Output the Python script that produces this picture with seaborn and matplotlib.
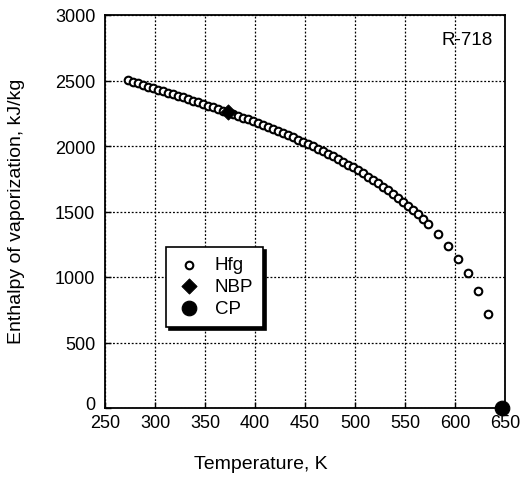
import numpy as np
import pandas as pd
import matplotlib
matplotlib.use("Agg")
import matplotlib.pyplot as plt
import matplotlib.transforms as mtransforms
import seaborn as sns

# Saturation temperatures (K) and enthalpy of vaporization (kJ/kg) for water (R-718)
temp_c = [0, 5, 10, 15, 20, 25, 30, 35, 40, 45, 50, 55, 60, 65, 70, 75, 80, 85, 90, 95,
          100, 105, 110, 115, 120, 125, 130, 135, 140, 145, 150, 155, 160, 165, 170, 175,
          180, 185, 190, 195, 200, 205, 210, 215, 220, 225, 230, 235, 240, 245, 250, 255,
          260, 265, 270, 275, 280, 285, 290, 295, 300, 310, 320, 330, 340, 350, 360]
hfg = [2501.3, 2489.6, 2477.7, 2465.9, 2454.1, 2442.3, 2430.5, 2418.6, 2406.7, 2394.8,
       2382.7, 2370.7, 2358.5, 2346.2, 2333.8, 2321.4, 2308.8, 2296.0, 2283.2, 2270.2,
       2257.0, 2243.7, 2230.2, 2216.5, 2202.6, 2188.5, 2174.2, 2159.6, 2144.7, 2129.6,
       2114.3, 2098.6, 2082.6, 2066.2, 2049.5, 2032.4, 2015.0, 1997.1, 1978.8, 1960.0,
       1940.7, 1921.0, 1900.7, 1879.9, 1858.5, 1836.5, 1813.8, 1790.5, 1766.5, 1741.7,
       1716.2, 1689.8, 1662.5, 1634.4, 1605.2, 1574.9, 1543.6, 1511.0, 1477.1, 1441.8,
       1404.9, 1326.0, 1238.6, 1140.6, 1027.9, 893.4, 720.5]
temp_k = [t + 273.15 for t in temp_c]

nbp_t = [373.15]
nbp_h = [2257.0]
cp_t = [647.1]
cp_h = [0.0]

x_ticks = [250, 300, 350, 400, 450, 500, 550, 600, 650]
y_ticks = [0, 500, 1000, 1500, 2000, 2500, 3000]

sns.set_theme(style="white")
plt.rcParams['font.family'] = ['Liberation Sans', 'DejaVu Sans']
plt.rcParams['text.color'] = 'black'
plt.rcParams['axes.labelcolor'] = 'black'
plt.rcParams['xtick.color'] = 'black'
plt.rcParams['ytick.color'] = 'black'

fig = plt.figure(figsize=(5.21, 4.81), dpi=100)
ax = fig.add_axes([105 / 521, 1 - 409 / 481, 400 / 521, 393 / 481])

df_h = pd.DataFrame({"T": temp_k, "H": hfg})
df_n = pd.DataFrame({"T": nbp_t, "H": nbp_h})
df_c = pd.DataFrame({"T": cp_t, "H": cp_h})

sns.scatterplot(data=df_h, x="T", y="H", ax=ax, marker="o", s=30,
                facecolor="white", edgecolor="black", linewidth=1.5, label="Hfg", zorder=3)
sns.scatterplot(data=df_n, x="T", y="H", ax=ax, marker="D", s=60,
                color="black", edgecolor="black", label="NBP", zorder=4)
sns.scatterplot(data=df_c, x="T", y="H", ax=ax, marker="o", s=110,
                color="black", edgecolor="black", label="CP", zorder=5, clip_on=False)

ax.set_xlim(250, 650)
ax.set_ylim(0, 3000)
ax.set_xticks(x_ticks)
ax.set_yticks(y_ticks)
ax.grid(True, color="black", linestyle=(0, (1.5, 1.5)), linewidth=0.9)
for s in ax.spines.values():
    s.set_color("black")
    s.set_linewidth(1.3)
ax.tick_params(direction="in", length=4, width=1, colors="black", labelcolor="black",
               labelsize=13, bottom=True, left=True)
ax.tick_params(axis="x", pad=4)
ax.tick_params(axis="y", pad=7)

# nudge the "0" y label up slightly (as in the reference)
ylabels = ax.get_yticklabels()
offset = mtransforms.ScaledTranslation(0, 4 / 72, fig.dpi_scale_trans)
ylabels[0].set_transform(ylabels[0].get_transform() + offset)

ax.set_xlabel("Temperature, K", fontsize=14, color="black")
ax.set_ylabel("Enthalpy of vaporization, kJ/kg", fontsize=14, color="black")
ax.xaxis.set_label_coords((261 - 105) / 400, (409 - 465) / 393)
ax.xaxis.label.set_va("center")
ax.yaxis.set_label_coords((17 - 105) / 400, (409 - 211) / 393)
ax.yaxis.label.set_va("center")

ax.text(0.97, 0.96, "R-718", transform=ax.transAxes, ha="right", va="top",
        fontsize=13.5, color="black")

leg = ax.legend(loc="upper left", bbox_to_anchor=((166 - 105) / 400, (409 - 248) / 393),
                fontsize=13.5, frameon=True, fancybox=False,
                shadow={"color": "black", "alpha": 1.0, "ox": 2.5, "oy": -2.5},
                handletextpad=0.6, borderpad=0.5, labelspacing=0.25, handlelength=1.5,
                borderaxespad=0)
leg.get_frame().set_edgecolor("black")
leg.get_frame().set_linewidth(1.2)
leg.get_frame().set_alpha(1)
for t in leg.get_texts():
    t.set_color("black")

fig.savefig("out.png", dpi=100)
